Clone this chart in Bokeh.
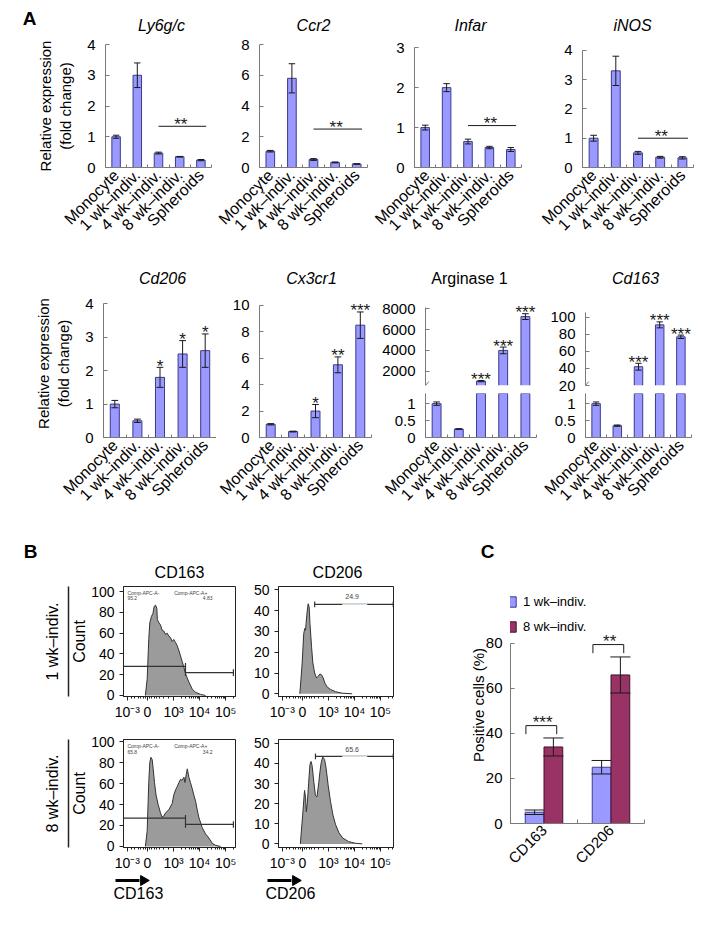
import math
from bokeh.plotting import figure
from bokeh.models import (FixedTicker, LinearAxis, Legend, LegendItem,
                          NumeralTickFormatter, Spacer)
from bokeh.layouts import row, column
from bokeh.core.properties import value
from bokeh.embed import file_html
from bokeh.resources import INLINE

FONT = "Liberation Sans"
BLUE = "#9999ff"
BLUE_EDGE = "#3b3b8a"
MAROON = "#993366"
MAROON_EDGE = "#3d1429"
AXIS_GRAY = "#7a7a7a"
INK = "#1a1a1a"
FLOW_FILL = "#9b9b9b"

# ---------------- data: panel A ----------------
categories = ["Monocyte", "1 wk\u2013indiv.", "4 wk\u2013indiv.", "8 wk\u2013indiv.", "Spheroids"]

ly6gc_mean = [1.00, 3.00, 0.47, 0.35, 0.24]
ly6gc_err = [0.05, 0.40, 0.03, 0.01, 0.02]
ccr2_mean = [1.06, 5.80, 0.52, 0.33, 0.23]
ccr2_err = [0.05, 0.95, 0.06, 0.03, 0.02]
infar_mean = [1.00, 2.00, 0.65, 0.50, 0.45]
infar_err = [0.06, 0.10, 0.06, 0.03, 0.05]
inos_mean = [1.00, 3.30, 0.50, 0.35, 0.33]
inos_err = [0.10, 0.50, 0.05, 0.03, 0.04]
row1_titles = ["Ly6g/c", "Ccr2", "Infar", "iNOS"]
row1_sig_level = [1.34, 2.5, 1.05, 1.0]
row1_sig_text = "**"

cd206_mean = [1.00, 0.50, 1.80, 2.50, 2.60]
cd206_err = [0.11, 0.05, 0.30, 0.40, 0.50]
cd206_stars = ["", "", "*", "*", "*"]
cx3cr1_mean = [1.00, 0.45, 2.00, 5.50, 8.50]
cx3cr1_err = [0.05, 0.03, 0.50, 0.60, 1.00]
cx3cr1_stars = ["", "", "*", "**", "***"]
arg1_mean = [1.00, 0.25, 1050, 4000, 7250]
arg1_err = [0.05, 0.01, 60, 320, 280]
arg1_stars = ["", "", "***", "***", "***"]
cd163_mean = [1.00, 0.35, 42, 91, 77]
cd163_err = [0.05, 0.02, 4, 3.5, 2]
cd163_stars = ["", "", "***", "***", "***"]
row2_titles = ["Cd206", "Cx3cr1", "Arginase 1", "Cd163"]
row2_title_italic = [True, True, False, True]

# ---------------- data: panel B (flow histograms) ----------------
flow_tick_pos = [-0.77, 0, 1, 2, 3]
flow_tick_labels = ["10\u207b\u00b3", "0", "10\u00b3", "10\u2074", "10\u2075"]

cd163_1wk_x = [-0.08, -0.01, 0.05, 0.09, 0.15, 0.21, 0.26, 0.31, 0.36, 0.38, 0.44, 0.50,
               0.56, 0.63, 0.69, 0.76, 0.82, 0.88, 0.95, 1.01, 1.08, 1.14, 1.21, 1.27,
               1.33, 1.40, 1.46, 1.59, 1.72, 1.85, 2.04, 2.23]
cd163_1wk_y = [0, 16, 54, 70, 76, 79, 86, 87, 84, 73, 70, 68, 63, 62, 59, 60, 57, 56, 52,
               54, 51, 48, 43, 38, 33, 27, 21, 13, 6, 3, 1, 0]
cd206_1wk_x = [-0.10, -0.01, 0.05, 0.09, 0.12, 0.14, 0.18, 0.22, 0.26, 0.29, 0.35, 0.40,
               0.47, 0.54, 0.60, 0.67, 0.73, 0.80, 0.86, 0.95, 1.08, 1.27, 1.53, 1.91]
cd206_1wk_y = [0, 14.8, 29, 31.4, 30.6, 33.8, 39.4, 43.3, 41.7, 33.8, 22.7, 14.8, 10, 7.6,
               8.4, 9.5, 9.2, 7.6, 5.2, 3.3, 2.1, 1.0, 0.3, 0]
cd163_8wk_x = [-0.08, -0.01, 0.05, 0.09, 0.13, 0.18, 0.22, 0.27, 0.33, 0.41, 0.50, 0.56,
               0.63, 0.69, 0.82, 0.95, 1.01, 1.08, 1.14, 1.21, 1.27, 1.33, 1.40, 1.44,
               1.49, 1.53, 1.59, 1.65, 1.72, 1.78, 1.85, 1.91, 1.97, 2.10, 2.23, 2.36,
               2.49, 2.62, 2.81]
cd163_8wk_y = [0, 15, 61, 80, 85, 83, 74, 61, 49, 40, 32, 28, 29, 32, 35, 41, 49, 54, 57,
               61, 64, 63, 66, 61, 69, 74, 66, 61, 55, 49, 43, 35, 28, 18, 12, 8, 3, 1, 0]
cd206_8wk_x = [-0.08, 0.01, 0.08, 0.12, 0.15, 0.19, 0.24, 0.29, 0.33, 0.37, 0.44, 0.50,
               0.56, 0.63, 0.67, 0.72, 0.78, 0.85, 0.91, 0.99, 1.08, 1.17, 1.27, 1.40,
               1.55, 1.78, 2.04, 2.30]
cd206_8wk_y = [0, 14.5, 26.6, 23, 16, 20.6, 30.6, 39.5, 41, 39, 30.6, 24, 23.4, 30.6, 35.5,
               40.3, 43.2, 42, 37.6, 29, 21, 14.5, 9.7, 5.6, 2.9, 1.1, 0.3, 0]

gate_names = ["Comp-APC-A-", "Comp-APC-A+"]
cd163_gate_split = 1.46
cd163_gate_end = 3.30
cd163_1wk_gate_levels = [28, 22]
cd163_8wk_gate_levels = [27, 21]
cd163_1wk_pct = ["95.2", "4.83"]
cd163_8wk_pct = ["65.8", "34.2"]
cd206_gate_start = [0.47, 0.50]
cd206_gate_end = 3.49
cd206_gate_level = [43, 43.5]
cd206_pct = ["24.9", "65.6"]
flow_axis_names = ["CD163", "CD206"]
flow_row_names = ["1 wk\u2013indiv.", "8 wk\u2013indiv."]

# ---------------- data: panel C ----------------
c_markers = ["CD163", "CD206"]
c_groups = ["1 wk\u2013indiv.", "8 wk\u2013indiv."]
c_1wk_mean = [5, 25]
c_1wk_err = [1, 3]
c_8wk_mean = [34, 66]
c_8wk_err = [4, 8]
c_stars = ["***", "**"]

positions = list(range(len(categories)))
BAR_W = 0.4
CAP = 0.15
X_RANGE = (-0.5, 4.5)
YLAB = "Relative expression\n(fold change)"


def new_fig(width, height, borders, x_range, y_range):
    left, right, top, bottom = borders
    p = figure(width=width, height=height, x_range=x_range, y_range=y_range,
               output_backend="svg", toolbar_location=None,
               min_border_left=left, min_border_right=right,
               min_border_top=top, min_border_bottom=bottom)
    p.grid.visible = False
    p.outline_line_color = None
    p.background_fill_color = "white"
    p.border_fill_color = "white"
    return p


def strip(width, height):
    s = new_fig(width, height, (0, 0, 0, 0), (0, width), (0, height))
    s.xaxis.visible = False
    s.yaxis.visible = False
    return s


def strip_text(s, x, y, text, size="16px", style="normal", align="center"):
    s.text(x=[x], y=[y], text=[text], text_font=value(FONT), text_font_size=value(size),
           text_font_style=style, text_align=align, text_baseline="middle", text_color="black")


def bar_fig(width, height, borders, y_range, yticks, show_x=True, y_bounds=None,
            y_fmt=None, y_label=None):
    p = new_fig(width, height, borders, X_RANGE, y_range)
    ya = p.yaxis[0]
    ya.ticker = FixedTicker(ticks=yticks)
    ya.major_tick_in = 4
    ya.major_tick_out = 0
    ya.minor_tick_line_color = None
    ya.axis_line_color = AXIS_GRAY
    ya.major_tick_line_color = AXIS_GRAY
    ya.major_label_text_font = FONT
    ya.major_label_text_font_size = "15px"
    ya.major_label_text_color = "black"
    ya.major_label_standoff = 10
    if y_bounds is not None:
        ya.bounds = y_bounds
    if y_fmt is not None:
        ya.formatter = y_fmt
    if y_label:
        ya.axis_label = y_label
        ya.axis_label_text_font = FONT
        ya.axis_label_text_font_style = "normal"
        ya.axis_label_text_font_size = "15px"
        ya.axis_label_text_color = "black"
        ya.axis_label_standoff = 10
    xa = p.xaxis[0]
    if show_x:
        xa.ticker = FixedTicker(ticks=positions, minor_ticks=[i - 0.5 for i in range(len(positions) + 1)])
        xa.major_label_overrides = {i: c for i, c in enumerate(categories)}
        xa.major_label_orientation = math.pi / 4
        xa.major_tick_in = 0
        xa.major_tick_out = 0
        xa.minor_tick_in = 3
        xa.minor_tick_out = 0
        xa.minor_tick_line_color = AXIS_GRAY
        xa.axis_line_color = AXIS_GRAY
        xa.major_label_text_font = FONT
        xa.major_label_text_font_size = "16px"
        xa.major_label_text_color = "black"
        xa.major_label_standoff = 5
    else:
        xa.visible = False
    return p


def add_errors(p, xs, means, errs):
    upper = [m + e for m, e in zip(means, errs)]
    lower = [m - e for m, e in zip(means, errs)]
    p.segment(x0=xs, y0=lower, x1=xs, y1=upper, line_color=INK, line_width=1)
    p.segment(x0=[x - CAP for x in xs], y0=upper, x1=[x + CAP for x in xs], y1=upper,
              line_color=INK, line_width=1)
    p.segment(x0=[x - CAP for x in xs], y0=lower, x1=[x + CAP for x in xs], y1=lower,
              line_color=INK, line_width=1)


def add_bars(p, xs, means, errs, fill=BLUE, edge=BLUE_EDGE, width=BAR_W):
    r = p.vbar(x=xs, top=means, bottom=0, width=width, fill_color=fill, line_color=edge, line_width=1)
    add_errors(p, xs, means, errs)
    return r


def add_stars(p, xs, ys, texts, size="17px", offset=-1):
    p.text(x=xs, y=ys, text=texts, text_font=value(FONT), text_font_size=value(size),
           text_align="center", text_baseline="alphabetic", y_offset=offset, text_color=INK)


def add_bars_upper(p, means, errs, stars, floor):
    """Upper part of a broken axis: bars start at the break (no bottom edge)."""
    keep = [i for i, m in enumerate(means) if m > floor]
    xs = [positions[i] for i in keep]
    tops = [means[i] for i in keep]
    p.vbar(x=xs, top=tops, bottom=floor, width=BAR_W, fill_color=BLUE, line_color=None)
    h = BAR_W / 2
    p.multi_line(xs=[[x - h, x - h, x + h, x + h] for x in xs],
                 ys=[[floor, t, t, floor] for t in tops], line_color=BLUE_EDGE, line_width=1)
    kerr = [errs[i] for i in keep]
    add_errors(p, xs, tops, kerr)
    add_stars(p, xs, [t + e for t, e in zip(tops, kerr)], [stars[i] for i in keep])


def add_row1_sig(p, level):
    p.segment(x0=[positions[2]], y0=[level], x1=[positions[4] + 0.25], y1=[level],
              line_color=INK, line_width=1)
    add_stars(p, [positions[3] + 0.05], [level], [row1_sig_text], offset=-2)


def break_mark(p, x, y, dx, dy):
    p.segment(x0=[x - dx], y0=[y - dy], x1=[x + dx], y1=[y + dy], line_color=AXIS_GRAY, line_width=1)


def upper_of(means, errs):
    return [m + e for m, e in zip(means, errs)]


# ================= strip with panel letter A and row-1 titles =================
s1 = strip(709, 28)
strip_text(s1, 21, 18, "A", size="19px", style="bold")
for x, t in zip([153, 305, 462, 624], row1_titles):
    strip_text(s1, x, 11, t, style="italic")

# ================= Panel A, row 1 =================
f1 = bar_fig(206, 206, (97, 3, 8, 70), (0, 4), [0, 1, 2, 3, 4], y_label=YLAB)
add_bars(f1, positions, ly6gc_mean, ly6gc_err)
add_row1_sig(f1, row1_sig_level[0])

f2 = bar_fig(157, 206, (45, 4, 8, 70), (0, 8), [0, 2, 4, 6, 8])
add_bars(f2, positions, ccr2_mean, ccr2_err)
add_row1_sig(f2, row1_sig_level[1])

f3 = bar_fig(166, 206, (43, 16, 8, 70), (0, 3.08), [0, 1, 2, 3], y_bounds=(0, 3))
add_bars(f3, positions, infar_mean, infar_err)
add_row1_sig(f3, row1_sig_level[2])

f4 = bar_fig(180, 206, (45, 24, 8, 70), (0, 4.2), [0, 1, 2, 3, 4], y_bounds=(0, 4))
add_bars(f4, positions, inos_mean, inos_err)
add_row1_sig(f4, row1_sig_level[3])

# ================= strip with row-2 titles =================
s2 = strip(709, 45)
for x, t, it in zip([154, 303, 461, 627], row2_titles, row2_title_italic):
    strip_text(s2, x, 9, t, style="italic" if it else "normal")

# ================= Panel A, row 2 =================
f5 = bar_fig(208, 225, (95, 0, 2, 69), (0, 4.43), [0, 1, 2, 3, 4], y_bounds=(0, 4), y_label=YLAB)
add_bars(f5, positions, cd206_mean, cd206_err)
add_stars(f5, positions, upper_of(cd206_mean, cd206_err), cd206_stars)

f6 = bar_fig(156, 225, (43, 1, 2, 69), (0, 11.2), [0, 2, 4, 6, 8, 10], y_bounds=(0, 10))
add_bars(f6, positions, cx3cr1_mean, cx3cr1_err)
add_stars(f6, positions, upper_of(cx3cr1_mean, cx3cr1_err), cx3cr1_stars)

ARG_TOP = (625, 9856)
LOW = (0, 1.3)
f7t = bar_fig(168, 106, (53, 4, 2, 8), ARG_TOP, [2000, 4000, 6000, 8000], show_x=False,
              y_bounds=(ARG_TOP[0], 8150))
add_bars_upper(f7t, arg1_mean, arg1_err, arg1_stars, ARG_TOP[0])
break_mark(f7t, X_RANGE[0], ARG_TOP[0], 0.15, 380)
f7b = bar_fig(168, 119, (53, 4, 0, 69), LOW, [0, 0.5, 1], y_fmt=NumeralTickFormatter(format="0.[0]"))
add_bars(f7b, positions, arg1_mean, arg1_err)
break_mark(f7b, X_RANGE[0], LOW[1], 0.15, 0.1)

CD163_TOP = (20, 132.4)
f8t = bar_fig(177, 106, (45, 26, 2, 8), CD163_TOP, [20, 40, 60, 80, 100], show_x=False,
              y_bounds=(CD163_TOP[0], 105))
add_bars_upper(f8t, cd163_mean, cd163_err, cd163_stars, CD163_TOP[0])
break_mark(f8t, X_RANGE[0], CD163_TOP[0], 0.15, 4.6)
f8b = bar_fig(177, 119, (45, 26, 0, 69), LOW, [0, 0.5, 1], y_fmt=NumeralTickFormatter(format="0.[0]"))
add_bars(f8b, positions, cd163_mean, cd163_err)
break_mark(f8b, X_RANGE[0], LOW[1], 0.15, 0.1)

# ================= strip with panel letters B, C and flow titles =================
s3 = strip(709, 68)
strip_text(s3, 22, 29, "B", size="19px", style="bold")
strip_text(s3, 479, 29, "C", size="19px", style="bold")
for x, t in zip([171, 329], flow_axis_names):
    strip_text(s3, x, 8, t)

# ================= Panel B =================
flow_minor = ([-0.62, -0.48, -0.36, -0.26, -0.17, -0.09, 0.09, 0.17, 0.26, 0.36, 0.48, 0.62, 0.8]
              + [d + math.log10(k) for d in (1, 2) for k in range(2, 10)]
              + [3 + math.log10(k) for k in (2, 3)])


def flow_fig(width, height, borders, x_range, y_range, yticks, row_label=None):
    p = new_fig(width, height, borders, x_range, y_range)
    p.outline_line_color = "#222222"
    p.outline_line_width = 1
    ya = p.yaxis[0]
    ya.ticker = FixedTicker(ticks=yticks)
    ya.major_tick_out = 4
    ya.major_tick_in = 0
    ya.minor_tick_line_color = None
    ya.axis_line_color = "#222222"
    ya.major_tick_line_color = "#222222"
    ya.major_label_text_font = FONT
    ya.major_label_text_font_size = "14px"
    ya.major_label_text_color = "black"
    ya.major_label_standoff = 5
    xa = p.xaxis[0]
    xa.ticker = FixedTicker(ticks=flow_tick_pos, minor_ticks=flow_minor)
    xa.major_label_overrides = {t: s for t, s in zip(flow_tick_pos, flow_tick_labels)}
    xa.major_tick_out = 4
    xa.major_tick_in = 0
    xa.minor_tick_out = 2
    xa.minor_tick_in = 0
    xa.axis_line_color = "#222222"
    xa.major_tick_line_color = "#222222"
    xa.minor_tick_line_color = "#222222"
    xa.major_label_text_font = FONT
    xa.major_label_text_font_size = "14px"
    xa.major_label_text_color = "black"
    xa.major_label_standoff = 3
    if row_label:
        ya.axis_label = "Count"
        ya.axis_label_text_font = FONT
        ya.axis_label_text_font_style = "normal"
        ya.axis_label_text_font_size = "16px"
        ya.axis_label_text_color = "black"
        ya.axis_label_standoff = 0
        extra = LinearAxis(ticker=FixedTicker(ticks=[]), axis_label=row_label,
                           axis_line_color="#222222", axis_line_width=1.5,
                           major_tick_line_color=None, minor_tick_line_color=None,
                           axis_label_text_font=FONT, axis_label_text_font_size="16px",
                           axis_label_text_font_style="normal", axis_label_text_color="black",
                           axis_label_standoff=8)
        p.add_layout(extra, "left")
    return p


def add_hist(p, xs, ys):
    p.varea(x=xs, y1=[0] * len(xs), y2=ys, fill_color=FLOW_FILL)
    p.line(x=xs, y=ys, line_color="#333333", line_width=1)


def cap(p, x, y, h):
    p.segment(x0=[x], y0=[y - h], x1=[x], y1=[y + h], line_color="#333333", line_width=1.2)


def add_cd163_gates(p, levels, pcts, xr, yr):
    left_lvl, right_lvl = levels
    p.segment(x0=[xr[0], cd163_gate_split], y0=[left_lvl, right_lvl],
              x1=[cd163_gate_split, cd163_gate_end], y1=[left_lvl, right_lvl],
              line_color="#333333", line_width=1.2)
    span = yr[1] - yr[0]
    cap(p, cd163_gate_split, left_lvl, span * 0.03)
    cap(p, cd163_gate_split, right_lvl, span * 0.03)
    cap(p, cd163_gate_end, right_lvl, span * 0.03)
    top = yr[1]
    p.text(x=[xr[0] + 0.15, xr[0] + 0.15], y=[top - 6.3, top - 11.5], text=[gate_names[0], pcts[0]],
           text_font=value(FONT), text_font_size=value("5px"), text_align="left",
           text_baseline="middle", text_color="#444444")
    p.text(x=[2.3, 2.5], y=[top - 6.3, top - 11.5], text=[gate_names[1], pcts[1]],
           text_font=value(FONT), text_font_size=value("5px"), text_align="right",
           text_baseline="middle", text_color="#444444")


def add_cd206_gate(p, start, level, pct):
    p.segment(x0=[start], y0=[level], x1=[cd206_gate_end], y1=[level],
              line_color="#333333", line_width=1.2)
    p.segment(x0=[1.53], y0=[level], x1=[2.49], y1=[level], line_color="#dddddd", line_width=1.4)
    cap(p, start, level, 1.4)
    cap(p, cd206_gate_end, level, 1.4)
    p.text(x=[1.91], y=[level + 3.6], text=[pct], text_font=value(FONT),
           text_font_size=value("7px"), text_align="center", text_baseline="middle",
           text_color="#444444")


X163 = (-0.92, 3.38)
X206 = (-0.92, 3.50)
Y163_T = (-1, 105)
Y206_T = (-1.3, 51.6)
Y163_B = (-1, 102)
Y206_B = (-1.8, 51.9)

b11 = flow_fig(242, 142, (115, 15, 6, 25), X163, Y163_T, [0, 20, 40, 60, 80, 100],
               row_label=flow_row_names[0])
add_hist(b11, cd163_1wk_x, cd163_1wk_y)
add_cd163_gates(b11, cd163_1wk_gate_levels, cd163_1wk_pct, X163, Y163_T)

b12 = flow_fig(150, 142, (28, 7, 6, 25), X206, Y206_T, [0, 10, 20, 30, 40, 50])
add_hist(b12, cd206_1wk_x, cd206_1wk_y)
add_cd206_gate(b12, cd206_gate_start[0], cd206_gate_level[0], cd206_pct[0])

b21 = flow_fig(242, 151, (115, 15, 17, 23), X163, Y163_B, [0, 20, 40, 60, 80, 100],
               row_label=flow_row_names[1])
add_hist(b21, cd163_8wk_x, cd163_8wk_y)
add_cd163_gates(b21, cd163_8wk_gate_levels, cd163_8wk_pct, X163, Y163_B)

b22 = flow_fig(150, 151, (28, 7, 17, 23), X206, Y206_B, [0, 10, 20, 30, 40, 50])
add_hist(b22, cd206_8wk_x, cd206_8wk_y)
add_cd206_gate(b22, cd206_gate_start[1], cd206_gate_level[1], cd206_pct[1])

# strip under the histograms: arrow + marker name (pixel coordinates of the strip)
LAB_W, LAB_H = 392, 52
lab = strip(LAB_W, LAB_H)
for x0, name in zip([107, 259], flow_axis_names):
    lab.segment(x0=[x0], y0=[LAB_H - 7], x1=[x0 + 24], y1=[LAB_H - 7], line_color="black", line_width=3)
    lab.scatter(x=[x0 + 28], y=[LAB_H - 7], marker="triangle", angle=-math.pi / 2, size=10,
                fill_color="black", line_color="black")
    strip_text(lab, x0 - 2, LAB_H - 20, name, align="left")

# ================= Panel C =================
c_pos = list(range(len(c_markers)))
C_YR = (0, 105.3)
pc = new_fig(317, 345, (110, 73, 6, 102), (-0.5, 1.5), C_YR)
ya = pc.yaxis[0]
ya.ticker = FixedTicker(ticks=[0, 20, 40, 60, 80])
ya.bounds = (0, 80)
ya.major_tick_in = 4
ya.major_tick_out = 0
ya.minor_tick_line_color = None
ya.axis_line_color = AXIS_GRAY
ya.major_tick_line_color = AXIS_GRAY
ya.major_label_text_font = FONT
ya.major_label_text_font_size = "15px"
ya.major_label_text_color = "black"
ya.major_label_standoff = 8
ya.axis_label = "Positive cells (%)"
ya.axis_label_text_font = FONT
ya.axis_label_text_font_style = "normal"
ya.axis_label_text_font_size = "15px"
ya.axis_label_text_color = "black"
ya.axis_label_standoff = -4
xa = pc.xaxis[0]
xa.ticker = FixedTicker(ticks=c_pos, minor_ticks=[-0.5, 0.5, 1.5])
xa.major_label_overrides = {i: c for i, c in enumerate(c_markers)}
xa.major_label_orientation = math.pi / 4
xa.major_tick_in = 0
xa.major_tick_out = 0
xa.minor_tick_in = 4
xa.minor_tick_out = 0
xa.minor_tick_line_color = AXIS_GRAY
xa.axis_line_color = AXIS_GRAY
xa.major_label_text_font = FONT
xa.major_label_text_font_size = "15px"
xa.major_label_text_color = "black"
xa.major_label_standoff = 4

HALF = 0.14
r1 = add_bars(pc, [i - HALF for i in c_pos], c_1wk_mean, c_1wk_err, width=2 * HALF)
r2 = add_bars(pc, [i + HALF for i in c_pos], c_8wk_mean, c_8wk_err, fill=MAROON,
              edge=MAROON_EDGE, width=2 * HALF)
tops = upper_of(c_8wk_mean, c_8wk_err)
for i, t in zip(c_pos, tops):
    b = t + 5.5
    pc.line(x=[i - 0.27, i - 0.27, i + 0.19, i + 0.19], y=[b - 3.8, b, b, b - 3.8],
            line_color=INK, line_width=1)
add_stars(pc, [i - 0.02 for i in c_pos], [t + 5.5 for t in tops], c_stars, offset=-3)

legend = Legend(items=[LegendItem(label=value(c_groups[0]), renderers=[r1]),
                       LegendItem(label=value(c_groups[1]), renderers=[r2])],
                location=(-6, 189))
legend.border_line_color = None
legend.background_fill_alpha = 0
legend.glyph_width = 13
legend.glyph_height = 13
legend.label_text_font = FONT
legend.label_text_font_size = "13px"
legend.label_text_color = "black"
legend.spacing = 10
legend.padding = 4
legend.margin = 0
legend.label_standoff = 6
pc.add_layout(legend)

main = column(
    s1,
    row(f1, f2, f3, f4),
    s2,
    row(f5, f6, column(f7t, f7b), column(f8t, f8b)),
    s3,
    row(column(row(b11, b12), row(b21, b22), lab), pc),
)
page = column(Spacer(width=717, height=8), row(Spacer(width=8, height=917), main))

open("out.html", "w").write(file_html(page, INLINE))
